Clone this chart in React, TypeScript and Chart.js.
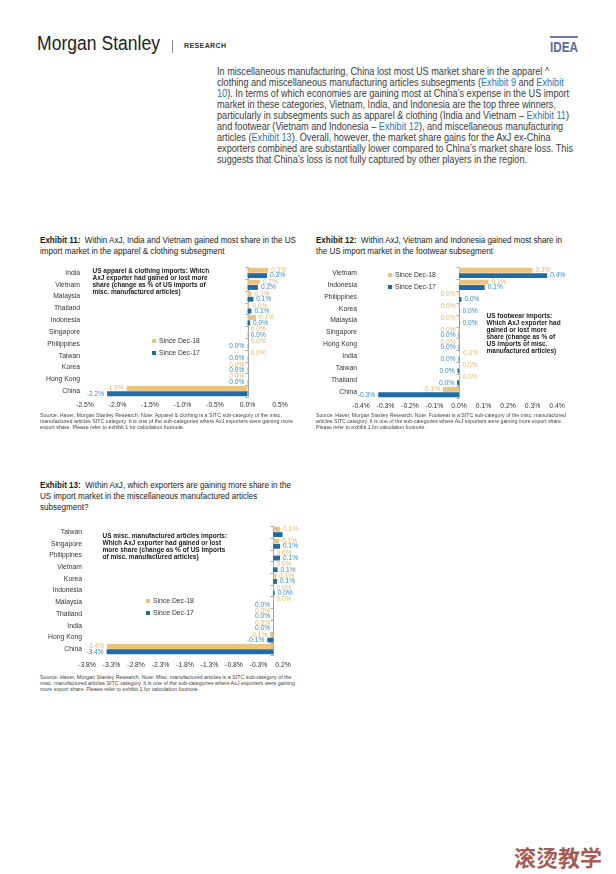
import React, { useEffect, useLayoutEffect, useRef } from 'react';
import { Chart, registerables } from 'chart.js';

Chart.register(...registerables);

// ---------- data ----------
const SERIES_NAMES = ['Since Dec-18', 'Since Dec-17'];

const CATS_11 = ['India', 'Vietnam', 'Malaysia', 'Thailand', 'Indonesia', 'Singapore', 'Philippines', 'Taiwan', 'Korea', 'Hong Kong', 'China'];
const DEC18_11 = [0.32, 0.19, 0.06, 0.03, 0.13, 0.004, 0.004, 0.004, -0.004, -0.004, -1.86];
const DEC17_11 = [0.30, 0.16, 0.09, 0.06, 0.04, 0.004, -0.004, -0.004, -0.004, -0.004, -2.16];
const TICKS_11 = [-2.5, -2.0, -1.5, -1.0, -0.5, 0, 0.5];

const CATS_12 = ['Vietnam', 'Indonesia', 'Philippines', 'Korea', 'Malaysia', 'Singapore', 'Hong Kong', 'India', 'Taiwan', 'Thailand', 'China'];
const DEC18_12 = [0.30, 0.12, -0.002, -0.002, -0.002, -0.002, -0.002, 0.004, 0.002, 0.002, -0.065];
const DEC17_12 = [0.36, 0.105, 0.01, 0.002, 0.002, -0.002, -0.002, -0.002, -0.006, -0.008, -0.33];
const TICKS_12 = [-0.4, -0.3, -0.2, -0.1, 0, 0.1, 0.2, 0.3, 0.4];

const CATS_13 = ['Taiwan', 'Singapore', 'Philippines', 'Vietnam', 'Korea', 'Indonesia', 'Malaysia', 'Thailand', 'India', 'Hong Kong', 'China'];
const DEC18_13 = [0.14, 0.12, 0.004, 0.004, 0.06, 0.004, 0.004, -0.004, -0.004, -0.06, -3.39];
const DEC17_13 = [0.19, 0.14, 0.14, 0.09, 0.08, 0.03, -0.004, -0.004, -0.004, -0.12, -3.40];
const TICKS_13 = [-3.8, -3.3, -2.8, -2.3, -1.8, -1.3, -0.8, -0.3, 0.2];

// ---------- styles ----------
const TAN = '#EAC47F';
const BLUE = '#1F6BA5';
const TAN_LABEL = '#E5B868';
const BLUE_LABEL = '#3C89C9';
const ARIAL = "'Liberation Sans', Arial, sans-serif";

const labelPlugin = {
  id: 'barLabels',
  afterDatasetsDraw(chart: any) {
    const ctx = chart.ctx;
    ctx.save();
    ctx.font = `6.6px ${ARIAL}`;
    ctx.textBaseline = 'middle';
    chart.data.datasets.forEach((ds: any, i: number) => {
      const meta = chart.getDatasetMeta(i);
      meta.data.forEach((el: any, j: number) => {
        const v = ds.data[j];
        const txt = Math.abs(v) < 0.05 ? '0.0%' : v.toFixed(1) + '%';
        const w = ctx.measureText(txt).width;
        ctx.fillStyle = ds.labelColor;
        if (v >= 0) {
          const x = el.x + 3;
          if (x + w > chart.chartArea.right + 16) return;
          ctx.textAlign = 'left';
          ctx.fillText(txt, x, el.y);
        } else {
          ctx.textAlign = 'right';
          ctx.fillText(txt, el.x - 3, el.y);
        }
      });
    });
    ctx.restore();
  },
};

const zeroLinePlugin = {
  id: 'zeroLine',
  beforeDatasetsDraw(chart: any) {
    const ctx = chart.ctx;
    const x = Math.round(chart.scales.x.getPixelForValue(0)) + 0.5;
    const { top, bottom } = chart.chartArea;
    const n = chart.data.labels.length;
    ctx.save();
    ctx.strokeStyle = '#a6a6a6';
    ctx.lineWidth = 1;
    ctx.beginPath();
    ctx.moveTo(x, top);
    ctx.lineTo(x, bottom);
    for (let i = 0; i <= n; i++) {
      const y = Math.round(top + (i * (bottom - top)) / n) + 0.5;
      ctx.moveTo(x - 3, y);
      ctx.lineTo(x, y);
    }
    ctx.stroke();
    ctx.restore();
  },
};

function makeConfig(
  cats: string[], d18: number[], d17: number[], ticks: number[],
  yWidth: number, padTop: number, padRight: number, xHeight: number, tickPad: number, yPad: number
): any {
  return {
    type: 'bar',
    data: {
      labels: cats,
      datasets: [
        { label: SERIES_NAMES[0], data: d18, backgroundColor: TAN, labelColor: TAN_LABEL, categoryPercentage: 0.9, barPercentage: 0.92 },
        { label: SERIES_NAMES[1], data: d17, backgroundColor: BLUE, labelColor: BLUE_LABEL, categoryPercentage: 0.9, barPercentage: 0.92 },
      ],
    },
    options: {
      indexAxis: 'y',
      animation: false,
      responsive: false,
      maintainAspectRatio: false,
      layout: { padding: { top: padTop, right: padRight, bottom: 0, left: 0 } },
      plugins: { legend: { display: false }, tooltip: { enabled: false } },
      scales: {
        x: {
          min: ticks[0],
          max: ticks[ticks.length - 1],
          afterBuildTicks: (s: any) => { s.ticks = ticks.map((v) => ({ value: v })); },
          afterFit: (s: any) => { s.height = xHeight; },
          grid: { display: false, drawTicks: false },
          border: { display: false },
          ticks: {
            autoSkip: false, maxRotation: 0, padding: tickPad, color: '#333',
            font: { family: ARIAL, size: 6.8 },
            callback: (v: any) => Number(v).toFixed(1) + '%',
          },
        },
        y: {
          afterFit: (s: any) => { s.width = yWidth; },
          grid: { display: false, drawTicks: false },
          border: { display: false },
          ticks: { autoSkip: false, padding: yPad, color: '#333', font: { family: ARIAL, size: 6.8 } },
        },
      },
    },
    plugins: [zeroLinePlugin, labelPlugin],
  };
}

function BarChart(props: { left: number; top: number; width: number; height: number; config: () => any }) {
  const ref = useRef<HTMLCanvasElement>(null);
  useEffect(() => {
    const chart = new Chart(ref.current as HTMLCanvasElement, props.config());
    return () => chart.destroy();
  }, []);
  return (
    <canvas
      ref={ref}
      width={props.width}
      height={props.height}
      style={{ position: 'absolute', left: props.left, top: props.top, width: props.width, height: props.height }}
    />
  );
}

const abs = (left: number, top: number, extra: React.CSSProperties = {}): React.CSSProperties => ({
  position: 'absolute', left, top, whiteSpace: 'nowrap', ...extra,
});

function Legend({ left, top }: { left: number; top: number }) {
  const row = (color: string, text: string, y: number) => (
    <div style={abs(left, y, { display: 'flex', alignItems: 'center', font: `6.8px ${ARIAL}`, color: '#333', lineHeight: '8px' })}>
      <span style={{ display: 'inline-block', width: 4, height: 4, background: color, marginRight: 3 }} />
      {text}
    </div>
  );
  return (
    <>
      {row(TAN, SERIES_NAMES[0], top)}
      {row(BLUE, SERIES_NAMES[1], top + 11.5)}
    </>
  );
}

function Lines({ left, top, lh, lines, style }: { left: number; top: number; lh: number; lines: React.ReactNode[]; style: React.CSSProperties }) {
  return (
    <div style={abs(left, top, { lineHeight: `${lh}px`, ...style })}>
      {lines.map((l, i) => <div key={i}>{l}</div>)}
    </div>
  );
}

// Text block horizontally condensed so its widest line spans `width` px (narrow-font look)
function FitBlock({ left, top, width, lh, lines, style }: { left: number; top: number; width: number; lh: number; lines: React.ReactNode[]; style: React.CSSProperties }) {
  const ref = useRef<HTMLDivElement>(null);
  useLayoutEffect(() => {
    const el = ref.current as HTMLDivElement;
    el.style.transform = 'none';
    const w = el.getBoundingClientRect().width;
    el.style.transform = `scaleX(${width / w})`;
  }, []);
  return (
    <div ref={ref} style={abs(left, top, { lineHeight: `${lh}px`, transformOrigin: '0 0', ...style })}>
      {lines.map((l, i) => <div key={i}>{l}</div>)}
    </div>
  );
}

const LINK = '#2e74b5';
const L = (t: string) => <span style={{ color: LINK }}>{t}</span>;

const BODY_LINES: React.ReactNode[] = [
  <>In miscellaneous manufacturing, China lost most US market share in the apparel ^</>,
  <>clothing and miscellaneous manufacturing articles subsegments ({L('Exhibit 9')} and {L('Exhibit')}</>,
  <>{L('10')}). In terms of which economies are gaining most at China’s expense in the US import</>,
  <>market in these categories, Vietnam, India, and Indonesia are the top three winners,</>,
  <>particularly in subsegments such as apparel &amp; clothing (India and Vietnam – {L('Exhibit 11')})</>,
  <>and footwear (Vietnam and Indonesia – {L('Exhibit 12')}), and miscellaneous manufacturing</>,
  <>articles ({L('Exhibit 13')}). Overall, however, the market share gains for the AxJ ex-China</>,
  <>exporters combined are substantially lower compared to China’s market share loss. This</>,
  <>suggests that China’s loss is not fully captured by other players in the region.</>,
];

const titleStyle: React.CSSProperties = { font: `9.6px ${ARIAL}`, color: '#1a1a1a' };
const noteStyle: React.CSSProperties = { font: `5.6px ${ARIAL}`, color: '#444' };
const annoStyle: React.CSSProperties = { font: `bold 6.5px ${ARIAL}`, color: '#222' };

export default function App() {
  return (
    <div style={{ position: 'absolute', left: 0, top: 0, width: 616, height: 874, background: '#fff', overflow: 'hidden' }}>
      {/* header */}
      <FitBlock left={37} top={31} width={123} lh={24} style={{ font: `20.5px ${ARIAL}`, color: '#222' }} lines={['Morgan Stanley']} />
      <div style={{ position: 'absolute', left: 172, top: 40, width: 1, height: 13, background: '#888' }} />
      <div style={abs(184, 42, { font: `bold 7px ${ARIAL}`, color: '#333', letterSpacing: '0.4px' })}>RESEARCH</div>
      <div style={{ position: 'absolute', left: 550, top: 36, width: 28, height: 2, background: '#6b79b5' }} />
      <FitBlock left={550} top={38} width={28} lh={16} style={{ font: `bold 15px ${ARIAL}`, color: '#5b6b9e' }} lines={['IDEA']} />

      {/* body text */}
      <FitBlock left={217} top={65.5} width={356} lh={15.4} lines={BODY_LINES} style={{ font: `10.3px ${ARIAL}`, color: '#3a3a3a' }} />

      {/* Exhibit 11 */}
      <FitBlock left={40} top={233.5} width={256} lh={10.5} style={titleStyle} lines={[
        <><b>Exhibit 11:</b>&nbsp; Within AxJ, India and Vietnam gained most share in the US</>,
        <>import market in the apparel &amp; clothing subsegment</>,
      ]} />
      <BarChart left={30} top={258} width={272} height={156}
        config={() => makeConfig(CATS_11, DEC18_11, DEC17_11, TICKS_11, 55, 8, 22, 17, 4.5, 5)} />
      <Lines left={92.5} top={266.9} lh={8.2} style={annoStyle} lines={[
        'US apparel & clothing imports: Which',
        'AxJ exporter had gained or lost more',
        'share (change as % of US imports of',
        'misc. manufactured articles)',
      ]} />
      <Legend left={152} top={337} />
      <FitBlock left={40} top={412} width={253} lh={6.8} style={noteStyle} lines={[
        'Source: Haver, Morgan Stanley Research. Note: Apparel & clothing is a SITC sub-category of the misc.',
        'manufactured articles SITC category. It is one of the sub-categories where AxJ exporters were gaining more',
        'export share. Please refer to exhibit 1 for calculation footnote.',
      ]} />

      {/* Exhibit 12 */}
      <FitBlock left={316} top={233.5} width={246} lh={10.5} style={titleStyle} lines={[
        <><b>Exhibit 12:</b>&nbsp; Within AxJ, Vietnam and Indonesia gained most share in</>,
        <>the US import market in the footwear subsegment</>,
      ]} />
      <BarChart left={310} top={258} width={280} height={156}
        config={() => makeConfig(CATS_12, DEC18_12, DEC17_12, TICKS_12, 51, 9, 33, 16, 4.5, 4)} />
      <Lines left={486.5} top={311.6} lh={8.75} style={annoStyle} lines={[
        'US footwear imports:',
        'Which AxJ exporter had',
        'gained or lost more',
        'share (change as % of',
        'US imports of misc.',
        'manufactured articles)',
      ]} />
      <Legend left={388} top={271} />
      <FitBlock left={316} top={411.5} width={250} lh={6.8} style={noteStyle} lines={[
        'Source: Haver, Morgan Stanley Research. Note: Footwear is a SITC sub-category of the misc. manufactured',
        'articles SITC category. It is one of the sub-categories where AxJ exporters were gaining more export share.',
        'Please refer to exhibit 1 for calculation footnote.',
      ]} />

      {/* Exhibit 13 */}
      <FitBlock left={40} top={478.5} width={251} lh={11.5} style={titleStyle} lines={[
        <><b>Exhibit 13:</b>&nbsp; Within AxJ, which exporters are gaining more share in the</>,
        <>US import market in the miscellaneous manufactured articles</>,
        <>subsegment?</>,
      ]} />
      <BarChart left={30} top={517} width={270} height={155}
        config={() => makeConfig(CATS_13, DEC18_13, DEC17_13, TICKS_13, 57, 8, 17, 17, 6.5, 5)} />
      <Lines left={102.5} top={531.9} lh={8.3} style={annoStyle} lines={[
        'US misc. manufactured articles imports:',
        'Which AxJ exporter had gained or lost',
        'more share (change as % of US imports',
        'of misc. manufactured articles)',
      ]} />
      <Legend left={146} top={597} />
      <FitBlock left={40} top={674} width={255} lh={6.5} style={noteStyle} lines={[
        'Source: Haver, Morgan Stanley Research. Note: Misc. manufactured articles is a SITC sub-category of the',
        'misc. manufactured articles SITC category. It is one of the sub-categories where AxJ exporters were gaining',
        'more export share. Please refer to exhibit 1 for calculation footnote.',
      ]} />

      {/* corner mark */}
      <div style={abs(514, 842, { font: `bold 22px 'Noto Sans CJK SC', sans-serif`, color: '#a65b55', lineHeight: '28px' })}>滚烫教学</div>
    </div>
  );
}
